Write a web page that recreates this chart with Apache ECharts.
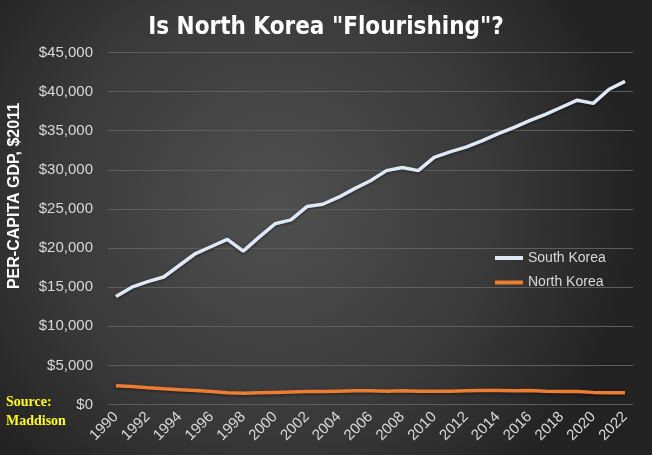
<!DOCTYPE html>
<html>
<head>
<meta charset="utf-8">
<script src="https://cdn.jsdelivr.net/npm/echarts@6/dist/echarts.min.js"></script>
<style>html,body{margin:0;padding:0;}#c{width:652px;height:455px;}</style>
</head>
<body>
<div id="c"></div>
<script>
const years = ['1990','1991','1992','1993','1994','1995','1996','1997','1998','1999','2000','2001','2002','2003','2004','2005','2006','2007','2008','2009','2010','2011','2012','2013','2014','2015','2016','2017','2018','2019','2020','2021','2022'];
const southKorea = [13800,15000,15700,16300,17800,19300,20200,21100,19600,21400,23100,23600,25300,25600,26500,27600,28600,29900,30300,29900,31600,32300,32900,33700,34600,35400,36300,37100,38000,38900,38500,40300,41300];
const northKorea = [2400,2300,2150,2000,1900,1800,1650,1500,1450,1500,1550,1600,1650,1650,1700,1750,1750,1700,1750,1700,1700,1700,1750,1800,1800,1750,1800,1700,1650,1650,1550,1500,1500];
const yTicks = [0,5000,10000,15000,20000,25000,30000,35000,40000,45000];

const chart = echarts.init(document.getElementById('c'));
chart.setOption({
  animation: false,
  backgroundColor: {
    type: 'radial', x: 0.42, y: 0.45, r: 0.8,
    colorStops: [{offset: 0, color: '#505050'}, {offset: 0.6, color: '#3a3a3a'}, {offset: 1, color: '#222222'}]
  },
  title: {
    text: 'Is North Korea "Flourishing"?',
    left: 'center', top: 11,
    textStyle: {color: '#ffffff', fontSize: 24, fontWeight: 'bold', fontFamily: 'DejaVu Sans Condensed'}
  },
  legend: {
    orient: 'vertical', left: 490, top: 246, itemGap: 10.5,
    itemWidth: 28, itemHeight: 4,
    icon: 'rect',
    textStyle: {color: '#d9d9d9', fontSize: 14, fontFamily: 'Liberation Sans'},
    data: ['South Korea', 'North Korea']
  },
  grid: {left: 108, right: 19, top: 52.5, bottom: 50.5},
  xAxis: {
    type: 'category', data: years, boundaryGap: true,
    axisLine: {show: false}, axisTick: {show: false},
    axisLabel: {interval: 1, rotate: 45, color: '#d9d9d9', fontSize: 15, fontFamily: 'Liberation Sans', margin: 10}
  },
  yAxis: {
    type: 'value', min: yTicks[0], max: yTicks[yTicks.length - 1], interval: 5000,
    axisLine: {show: false}, axisTick: {show: false},
    axisLabel: {color: '#d9d9d9', fontSize: 15, fontFamily: 'Liberation Sans', margin: 15,
      formatter: v => '$' + v.toLocaleString('en-US')},
    splitLine: {lineStyle: {color: '#5e5e5e', width: 1}}
  },
  graphic: [{
    type: 'text', x: 15, y: 196, rotation: Math.PI / 2,
    style: {text: 'PER-CAPITA GDP, $2011', fill: '#ffffff', font: 'bold 16px "Liberation Sans Narrow", "Liberation Sans"',
      align: 'center', verticalAlign: 'middle'}
  }, {
    type: 'text', left: 6, top: 393,
    style: {text: 'Source:\nMaddison', fill: '#ffff00', font: 'bold 14px "Liberation Serif"', lineHeight: 19}
  }],
  series: [
    {name: 'South Korea', type: 'line', data: southKorea, symbol: 'none',
      lineStyle: {color: '#dfe9f6', width: 3.5, shadowColor: 'rgba(0,0,0,0.5)', shadowBlur: 3, shadowOffsetY: 1},
      itemStyle: {color: '#dfe9f6'}},
    {name: 'North Korea', type: 'line', data: northKorea, symbol: 'none',
      lineStyle: {color: '#ed7d31', width: 3.5, shadowColor: 'rgba(0,0,0,0.5)', shadowBlur: 3, shadowOffsetY: 1},
      itemStyle: {color: '#ed7d31'}}
  ]
});
</script>
</body>
</html>
